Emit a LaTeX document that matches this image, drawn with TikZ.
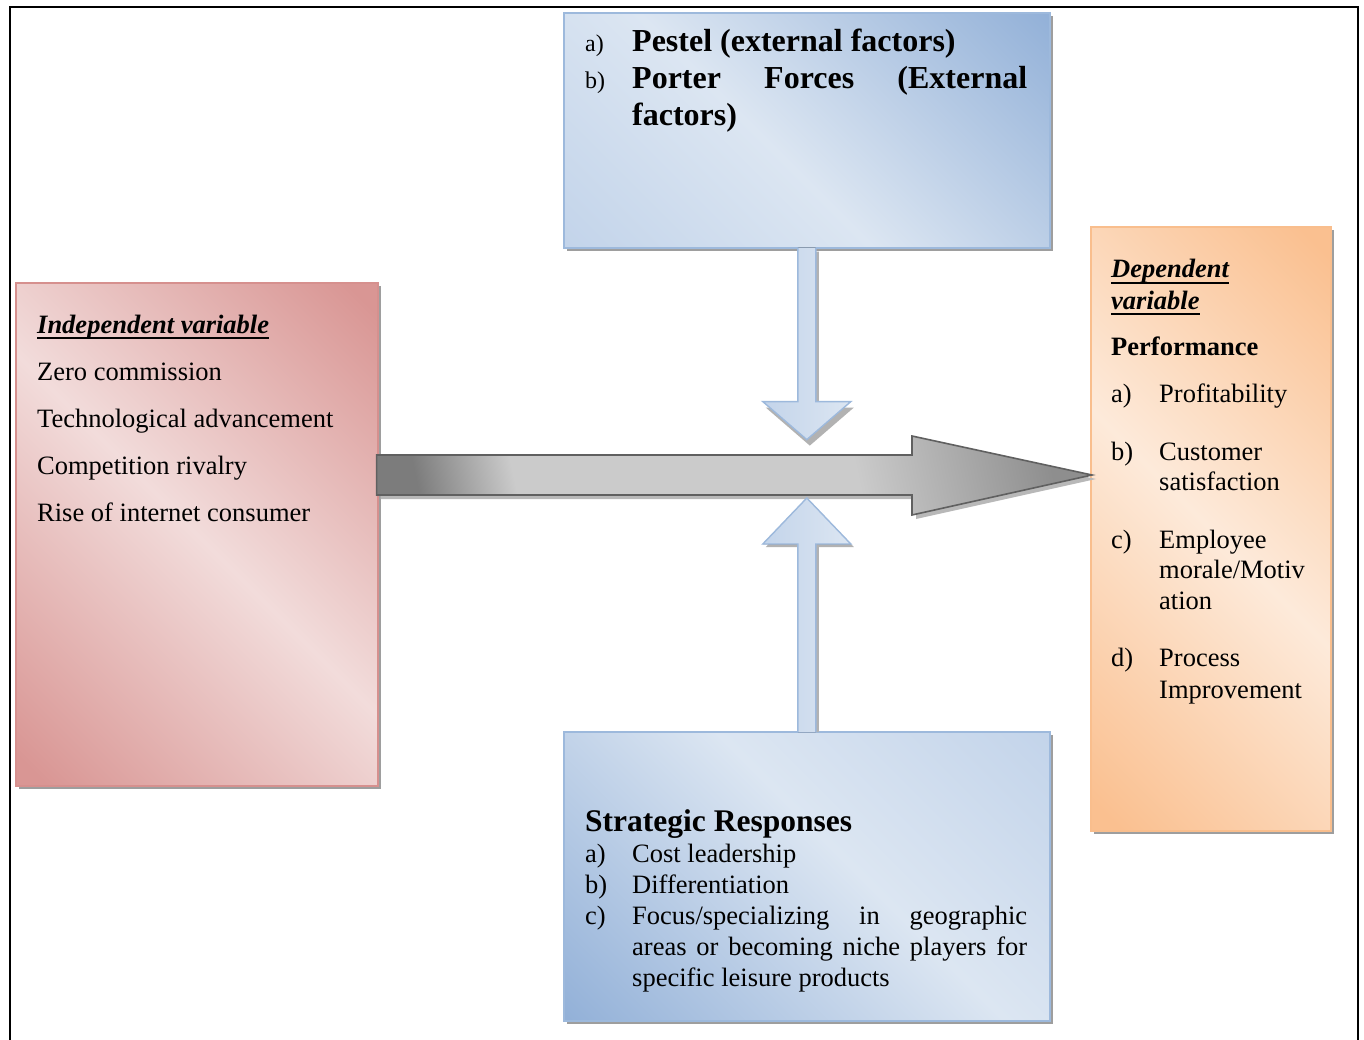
\documentclass[tikz,border=0pt]{standalone}
\usepackage{fontspec}
\setmainfont{Liberation Serif}
\usetikzlibrary{shadows,calc}
\definecolor{blueD}{HTML}{93B1D8}
\definecolor{blueM}{HTML}{C3D4EA}
\definecolor{blueL}{HTML}{DCE6F2}
\definecolor{blueB}{HTML}{9DB9DC}
\definecolor{redD}{HTML}{D99694}
\definecolor{redL}{HTML}{F2DCDB}
\definecolor{redB}{HTML}{D6908E}
\definecolor{orD}{HTML}{FAC090}
\definecolor{orL}{HTML}{FDEADA}
\definecolor{orB}{HTML}{F9BE8D}
\definecolor{grD}{HTML}{7C7C7C}
\definecolor{grL}{HTML}{CBCBCB}
\definecolor{grM}{HTML}{8E8E8E}
\definecolor{grB}{HTML}{606060}
\pgfdeclarehorizontalshading{bluesh}{100bp}{color(0bp)=(blueM); color(15bp)=(blueM); color(45bp)=(blueL); color(85bp)=(blueD); color(100bp)=(blueD)}
\pgfdeclarehorizontalshading{redsh}{100bp}{color(0bp)=(redD); color(17bp)=(redD); color(50bp)=(redL); color(83bp)=(redD); color(100bp)=(redD)}
\pgfdeclarehorizontalshading{orsh}{100bp}{color(0bp)=(orD); color(17bp)=(orD); color(50bp)=(orL); color(83bp)=(orD); color(100bp)=(orD)}
\pgfdeclarehorizontalshading{graysh}{100bp}{color(0bp)=(grD); color(24bp)=(grD); color(32bp)=(grL); color(60bp)=(grL); color(76bp)=(grM); color(100bp)=(grM)}
\pgfdeclarehorizontalshading{barrsh}{100bp}{color(0bp)=(blueM); color(25bp)=(blueM); color(75bp)=(blueL); color(100bp)=(blueL)}
\tikzset{
  box/.style={line width=1.6pt, anchor=north west, inner sep=0pt,
    drop shadow={shadow xshift=3pt, shadow yshift=-3pt, fill=black!38, opacity=1}},
  txt/.style={anchor=base west, inner sep=0pt, font=\fontsize{26.5}{31}\selectfont},
  lbl/.style={anchor=base west, inner sep=0pt, font=\fontsize{24}{28}\selectfont},
  bigb/.style={anchor=base west, inner sep=0pt, font=\fontsize{32}{37}\selectfont\bfseries},
  hd/.style={anchor=base west, inner sep=0pt, font=\fontsize{31.5}{36}\selectfont\bfseries},
  hdi/.style={anchor=base west, inner sep=0pt, font=\fontsize{26.5}{31}\selectfont\bfseries\itshape},
  uline/.style={line width=1.4pt},
  blkshadow/.style={fill=black!30},
  frame/.style={line width=2.2pt}
}
\begin{document}
\begin{tikzpicture}[x=1pt,y=-1pt]
\useasboundingbox (0,0) rectangle (1364,1040);
\fill[white] (0,0) rectangle (1364,1040);
\draw[frame] (10,1045) -- (10,7) -- (1358,7) -- (1358,1045);

% boxes
\node[box, draw=blueB, shading=bluesh, shading angle=45, minimum width=486, minimum height=235] (ext) at (563,12) {};
\node[box, draw=blueB, shading=bluesh, shading angle=225, minimum width=486, minimum height=289] (strat) at (563,731) {};
\node[box, draw=redB, shading=redsh, shading angle=45, minimum width=362, minimum height=503] (indep) at (15,282) {};
\node[box, draw=orB, shading=orsh, shading angle=45, minimum width=240, minimum height=604] (dep) at (1090,226) {};

% big gray arrow
\coordinate (gs) at (indep.north east |- 0,475);
\coordinate (gt) at (dep.north west |- 0,475);
\filldraw[draw=grB, line width=1.6pt, shading=graysh, shading angle=12,
  drop shadow={shadow xshift=4pt, shadow yshift=-4pt, fill=black!28, opacity=1}]
  ($(gs)+(-2,-20)$) -- (912,455) -- (912,436) -- ($(gt)+(2,0)$) -- (912,515) -- (912,495) -- ($(gs)+(-2,20)$) -- cycle;

% down blue arrow
\coordinate (dtop) at (ext.south);
\fill[blkshadow] ($(dtop)+(-6,3)$) -- ++(0,156) -- ++(-35,0) -- ++(44,38) -- ++(44,-38) -- ++(-35,0) -- ++(0,-156) -- cycle;
\fill[shading=barrsh] ($(dtop)+(-9,-1)$) -- ++(0,154) -- ++(-35,0) -- ++(44,38) -- ++(44,-38) -- ++(-35,0) -- ++(0,-154) -- cycle;
\draw[draw=blueB, line width=1.4pt, line join=miter] ($(dtop)+(-9,-1)$) -- ++(0,154) -- ++(-35,0) -- ++(44,38) -- ++(44,-38) -- ++(-35,0) -- ++(0,-154);

% up blue arrow
\coordinate (ubot) at (strat.north);
\fill[blkshadow] ($(ubot)+(-6,1)$) -- ++(0,-185) -- ++(-35,0) -- ++(44,-46) -- ++(44,46) -- ++(-35,0) -- ++(0,185) -- cycle;
\fill[shading=barrsh] ($(ubot)+(-9,1)$) -- ++(0,-188) -- ++(-35,0) -- ++(44,-46) -- ++(44,46) -- ++(-35,0) -- ++(0,188) -- cycle;
\draw[draw=blueB, line width=1.4pt, line join=miter] ($(ubot)+(-9,1)$) -- ++(0,-188) -- ++(-35,0) -- ++(44,-46) -- ++(44,46) -- ++(-35,0) -- ++(0,188);

% top box text
\node[lbl] (ea) at (585,52) {a)};
\node[bigb] (e1) at (632,52) {Pestel (external factors)};
\node[lbl] (eb) at (585,89) {b)};
\node[bigb] (e2) at (632,89) {\hbox to 395pt{Porter\hfill Forces\hfill (External}};
\node[bigb] (e3) at (632,126) {factors)};

% left box text
\node[hdi] (ih) at (37,333) {Independent variable};
\draw[uline] ($(ih.base west)+(0,5)$) -- ($(ih.base east)+(0,5)$);
\node[txt] (i1) at (37,380) {Zero commission};
\node[txt] (i2) at (37,427) {Technological advancement};
\node[txt] (i3) at (37,474) {Competition rivalry};
\node[txt] (i4) at (37,521) {Rise of internet consumer};

% right box text
\node[hdi] (dh1) at (1111,278) {Dependent};
\draw[uline] ($(dh1.base west)+(0,5)$) -- ($(dh1.base east)+(0,5)$);
\node[hdi] (dh2) at (1111,309) {variable};
\draw[uline] ($(dh2.base west)+(0,5)$) -- ($(dh2.base east)+(0,5)$);
\node[txt, font=\fontsize{26.5}{31}\selectfont\bfseries] (dp) at (1111,355) {Performance};
\node[txt] (da) at (1111,402) {a)};
\node[txt] (da1) at (1159,402) {Profitability};
\node[txt] (db) at (1111,460) {b)};
\node[txt] (db1) at (1159,460) {Customer};
\node[txt] (db2) at (1159,490) {satisfaction};
\node[txt] (dc) at (1111,548) {c)};
\node[txt] (dc1) at (1159,548) {Employee};
\node[txt] (dc2) at (1159,578) {morale/Motiv};
\node[txt] (dc3) at (1159,609) {ation};
\node[txt] (dd) at (1111,666) {d)};
\node[txt] (dd1) at (1159,666) {Process};
\node[txt] (dd2) at (1159,698) {Improvement};

% bottom box text
\node[hd] (sh) at (585,831) {Strategic Responses};
\node[txt] (sa) at (585,862) {a)};
\node[txt] (sa1) at (632,862) {Cost leadership};
\node[txt] (sb) at (585,893) {b)};
\node[txt] (sb1) at (632,893) {Differentiation};
\node[txt] (sc) at (585,924) {c)};
\node[txt] (sc1) at (632,924) {\hbox to 395pt{Focus/specializing\hfill in\hfill geographic}};
\node[txt] (sc2) at (632,955) {\hbox to 395pt{areas\hfill or\hfill becoming\hfill niche\hfill players\hfill for}};
\node[txt] (sc3) at (632,986) {specific leisure products};
\end{tikzpicture}
\end{document}
